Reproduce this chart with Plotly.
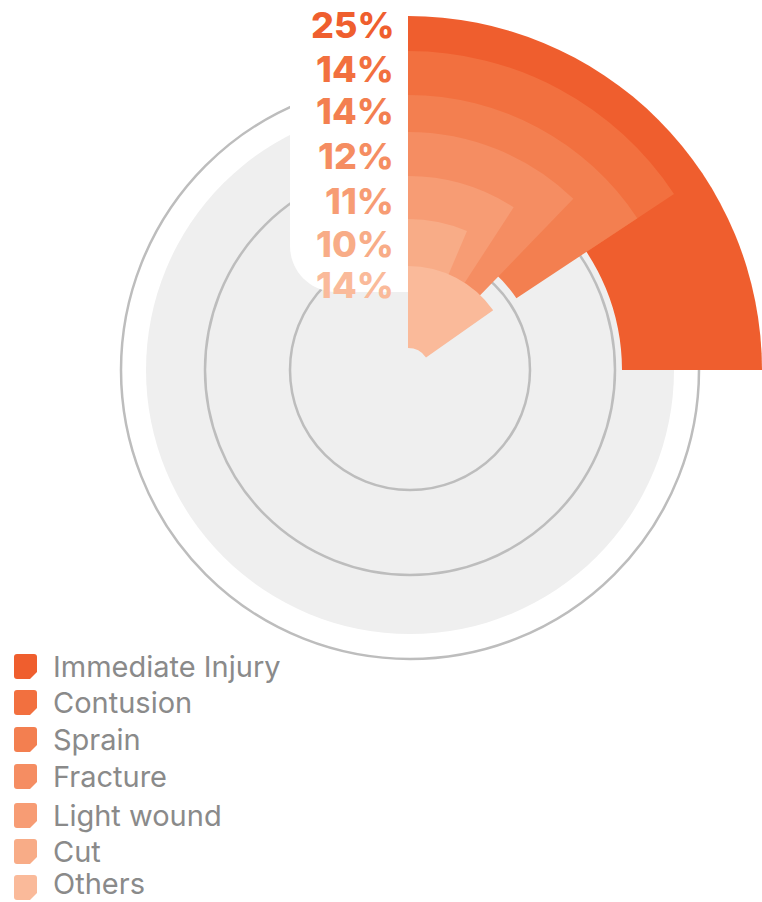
import plotly.graph_objects as go

W, H = 762, 902

# ---------------- data ----------------
categories = ["Immediate Injury", "Contusion", "Sprain", "Fracture",
              "Light wound", "Cut", "Others"]
percent = [25, 14, 14, 12, 11, 10, 14]
sweep_deg = [90, 56.5, 56.5, 44, 33, 23, 55]      # angular extent of each slice
outer_r = [360, 319, 275, 238, 194, 151, 104]     # outer radius of each slice
inner_r = [214, 214, 130, 100, 90, 80, 22]        # inner radius of each slice
colors = ["#EF5E2E", "#F2703F", "#F37F50", "#F58D62",
          "#F79C74", "#F8AC87", "#FABA9A"]

# ---------------- geometry helpers ----------------
CX, CY = 410, 370          # centre of the background rings (px, from top-left)
PCX, R = 408, 354          # polar centre x and polar radius (px)


def px(x):
    return x / W


def py(y):
    return 1 - y / H


fig = go.Figure()

for cat, sw, ro, ri, col in zip(categories, sweep_deg, outer_r, inner_r, colors):
    fig.add_trace(go.Barpolar(
        name=cat,
        theta=[sw / 2],
        width=[sw],
        r=[ro - ri],
        base=[ri],
        marker=dict(color=col, line=dict(width=0)),
        showlegend=False,
        hoverinfo="name",
    ))

shapes = []
# light grey disk
RD = 264
shapes.append(dict(type="circle", xref="paper", yref="paper", layer="below",
                   x0=px(CX - RD), x1=px(CX + RD), y0=py(CY + RD), y1=py(CY - RD),
                   fillcolor="#EFEFEF", line=dict(width=0)))
# rings
for rr in [289, 205, 120]:
    shapes.append(dict(type="circle", xref="paper", yref="paper", layer="below",
                       x0=px(CX - rr), x1=px(CX + rr), y0=py(CY + rr), y1=py(CY - rr),
                       fillcolor="rgba(0,0,0,0)", line=dict(color="#BDBDBD", width=2.5)))

# white label panel with rounded bottom-left corner
k = 0.5523
bx0, bx1, by0, by1, rc = 290, 411, -5, 292, 46
path = (f"M {px(bx0)},{py(by0)} L {px(bx1)},{py(by0)} L {px(bx1)},{py(by1)} "
        f"L {px(bx0 + rc)},{py(by1)} "
        f"C {px(bx0 + rc - k * rc)},{py(by1)} {px(bx0)},{py(by1 - rc + k * rc)} {px(bx0)},{py(by1 - rc)} Z")
shapes.append(dict(type="path", xref="paper", yref="paper", layer="below",
                   path=path, fillcolor="#FFFFFF", line=dict(width=0)))

# legend markers
leg_top = [654, 690, 727, 764, 803, 839, 875]
leg_text_y = [666, 702, 739, 776, 815, 851, 883]
mx0, mx1, mh, cr, cut = 14, 37, 25, 3, 7
for top, col in zip(leg_top, colors):
    x0, x1, y0, y1 = mx0, mx1, top, top + mh
    p = (f"M {px(x0 + cr)},{py(y0)} L {px(x1 - cr)},{py(y0)} "
         f"Q {px(x1)},{py(y0)} {px(x1)},{py(y0 + cr)} "
         f"L {px(x1)},{py(y1 - cut)} L {px(x1 - cut)},{py(y1)} "
         f"L {px(x0 + cr)},{py(y1)} Q {px(x0)},{py(y1)} {px(x0)},{py(y1 - cr)} "
         f"L {px(x0)},{py(y0 + cr)} Q {px(x0)},{py(y0)} {px(x0 + cr)},{py(y0)} Z")
    shapes.append(dict(type="path", xref="paper", yref="paper", layer="above",
                       path=p, fillcolor=col, line=dict(width=0)))

annotations = []
# percentage labels
lab_y = [25, 69, 111, 156, 201, 244, 285]
for v, yy, col in zip(percent, lab_y, colors):
    annotations.append(dict(xref="paper", yref="paper", x=px(395), y=py(yy),
                            xanchor="right", yanchor="middle", showarrow=False,
                            text=f"{v}%", borderpad=0,
                            font=dict(family="Inter", size=36, color=col, weight=800)))
# legend labels
for ty, cat in zip(leg_text_y, categories):
    annotations.append(dict(xref="paper", yref="paper", x=px(52), y=py(ty),
                            xanchor="left", yanchor="middle", showarrow=False,
                            text=cat, borderpad=0,
                            font=dict(family="Inter", size=29, color="#8A8A8A")))

fig.update_layout(
    width=W, height=H,
    margin=dict(l=0, r=0, t=0, b=0),
    paper_bgcolor="#FFFFFF",
    showlegend=False,
    polar=dict(
        domain=dict(x=[px(PCX - R), min(1.0, px(PCX + R))],
                    y=[max(0.0, py(CY + R)), min(1.0, py(CY - R))]),
        bgcolor="rgba(0,0,0,0)",
        bargap=0,
        radialaxis=dict(range=[0, R], visible=False),
        angularaxis=dict(rotation=90, direction="clockwise", visible=False),
    ),
    shapes=shapes,
    annotations=annotations,
)

fig.write_html("out.html", config={"displayModeBar": False},
               post_script="document.body.style.margin='0';")
